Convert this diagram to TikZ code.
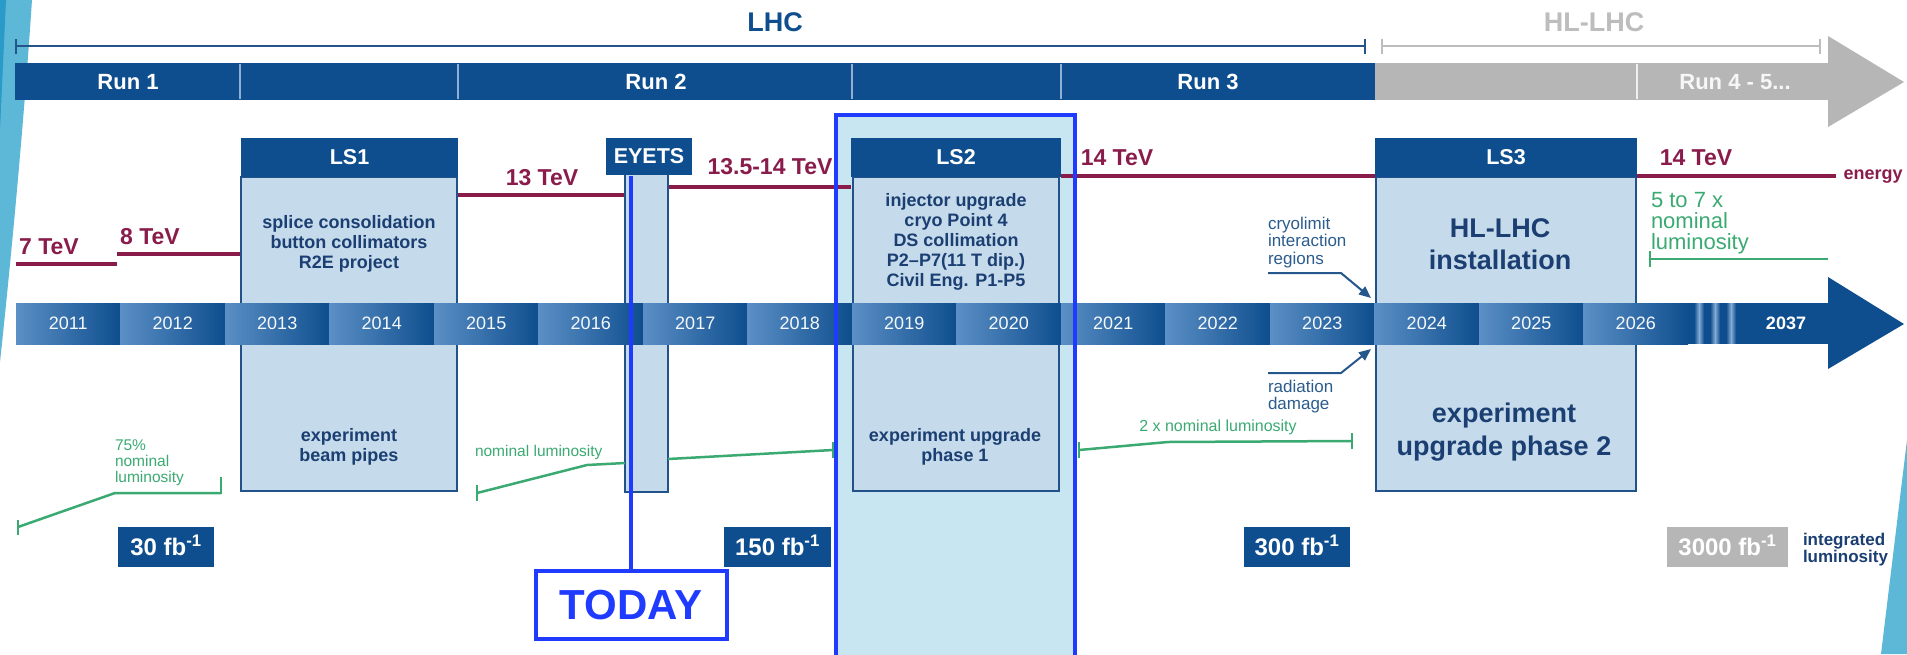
\documentclass[tikz,border=0pt]{standalone}
\usepackage{fontspec}
\setmainfont{Liberation Sans}
\usetikzlibrary{arrows.meta}
\definecolor{dblue}{HTML}{0E4E8E}
\definecolor{lblue}{HTML}{C5DAEA}
\definecolor{bord}{HTML}{21528A}
\definecolor{txtblue}{HTML}{1B3F72}
\definecolor{anntxt}{HTML}{2B5C8E}
\definecolor{annline}{HTML}{25578C}
\definecolor{maroon}{HTML}{8A1C4B}
\definecolor{lgreen}{HTML}{3BAA72}
\definecolor{hlfill}{HTML}{C8E5F2}
\definecolor{hlbord}{HTML}{1F3BFF}
\definecolor{gray1}{HTML}{B6B6B6}
\definecolor{hlgray}{HTML}{BDBDBD}
\definecolor{lhcline}{HTML}{24548A}
\definecolor{ygl}{HTML}{5B8FC5}
\definecolor{ygd}{HTML}{0E4E8E}
\definecolor{sliver}{HTML}{5DB8D8}
\definecolor{sliverd}{HTML}{2A9AC8}
\definecolor{divblue}{HTML}{8FB0D4}
\tikzset{
  lbl/.style={inner sep=0pt, outer sep=0pt},
  toptxt/.style={lbl, font=\fontsize{27}{29}\selectfont\bfseries},
  runtxt/.style={lbl, text=white, font=\fontsize{22}{24}\selectfont\bfseries},
  yeartxt/.style={lbl, text=white!94!ygl, font=\fontsize{18}{20}\selectfont},
  hdr/.style={fill=dblue, text=white, font=\fontsize{21.5}{24}\selectfont\bfseries, inner sep=0pt, outer sep=0pt, minimum height=39pt},
  lsbody/.style={fill=lblue, draw=bord, line width=2pt, inner sep=0pt, outer sep=0pt},
  bodytxt/.style={lbl, text=txtblue, align=center, anchor=north, font=\fontsize{18}{20}\selectfont\bfseries},
  bigtxt/.style={lbl, text=txtblue, align=center, anchor=north, font=\fontsize{27}{32.5}\selectfont\bfseries},
  tev/.style={lbl, text=maroon, font=\fontsize{23}{25}\selectfont\bfseries},
  eline/.style={draw=maroon, line width=4.5pt},
  lum/.style={draw=lgreen, line width=2.5pt},
  lumtxt/.style={lbl, text=lgreen, font=\fontsize{15.5}{16}\selectfont},
  fbbox/.style={fill=dblue, text=white, font=\fontsize{24}{26}\selectfont\bfseries, minimum height=40pt, inner sep=0pt, text height=17pt, text depth=0pt},
  ann/.style={lbl, text=anntxt, align=left, anchor=north west, font=\fontsize{17}{17.5}\selectfont},
  annarrow/.style={draw=annline, line width=2pt, -{Triangle[length=12pt,width=10pt]}},
  todaybox/.style={draw=hlbord, line width=4pt, fill=white, text=hlbord, font=\fontsize{42}{44}\selectfont\bfseries, minimum width=191pt, minimum height=68pt, inner sep=0pt},
}
\begin{document}
\begin{tikzpicture}[x=1pt,y=-1pt]
\path[use as bounding box] (0,0) rectangle (1907,654);
\begin{scope}
\clip (0,0) rectangle (1907,654);
\fill[white] (0,0) rectangle (1907,654);
% decorative slivers
\fill[sliver] (0,0) -- (32,0) .. controls (24,120) and (12,250) .. (0,362) -- cycle;
\fill[sliverd] (0,0) -- (6,0) -- (0,130) -- cycle;
\fill[sliver] (1907,440) -- (1907,654) -- (1881,654) -- cycle;

% top ranges
\node[toptxt, text=dblue] (lhc) at (775,22) {LHC};
\node[toptxt, text=hlgray] (hllhc) at (1594,22) {HL-LHC};
\coordinate (lhcL) at (15,46);
\coordinate (lhcR) at (1366,46);
\draw[draw=lhcline, line width=2pt, {Bar[width=15pt]}-{Bar[width=15pt]}] (lhcL) -- (lhcR);
\coordinate (hlL) at (1381,46);
\coordinate (hlR) at (1821,46);
\draw[draw=hlgray, line width=2pt, {Bar[width=15pt]}-{Bar[width=15pt]}] (hlL) -- (hlR);

% run bar
\fill[dblue] (15,63) rectangle (1376,100);
\fill[gray1] (1375,63) rectangle (1829,100);
\fill[gray1] (1828,36) -- (1904,82) -- (1828,127) -- cycle;
\foreach \dx in {240,458,852,1061} \draw[divblue, line width=1.5pt] (\dx,64) -- (\dx,99);
\draw[white!80!gray1, line width=1.5pt] (1637,64) -- (1637,99);
\node[runtxt] (run1) at (128,82) {Run 1};
\node[runtxt] (run2) at (656,82) {Run 2};
\node[runtxt] (run3) at (1208,82) {Run 3};
\node[runtxt, text=white!94!gray] (run45) at (1735,82) {Run 4 - 5...};

% highlight fill
\fill[hlfill] (836,115) rectangle (1075,660);

% energy
\draw[eline] (16,264) -- (117,264);
\draw[eline] (117,254) -- (241,254);
\draw[eline] (458,195) -- (625,195);
\draw[eline] (668,187) -- (851,187);
\draw[eline] (1061,176) -- (1375,176);
\draw[eline] (1636,176) -- (1836,176);
\node[tev] (e7) at (49,247) {7 TeV};
\node[tev] (e8) at (150,237) {8 TeV};
\node[tev] (e13) at (542,178) {13 TeV};
\node[tev] (e135) at (770,167) {13.5-14 TeV};
\node[tev] (e14a) at (1117,158) {14 TeV};
\node[tev] (e14b) at (1696,158) {14 TeV};
\node[lbl, text=maroon, anchor=base, font=\fontsize{18}{20}\selectfont\bfseries] (energy) at (1873,179) {energy};

% LS boxes
\node[lsbody, minimum width=216pt, minimum height=314pt] (ls1b) at (349,334) {};
\node[hdr, minimum width=217pt] (ls1) at (349.5,157.5) {LS1};
\node[bodytxt] (ls1t) at (349,215.5) {splice consolidation\\button collimators\\R2E project};
\node[bodytxt] (ls1e) at (349,428.5) {experiment\\beam pipes};

\node[lsbody, minimum width=43pt, minimum height=318pt] (eyb) at (646.5,333) {};
\node[hdr, minimum width=86pt, minimum height=37pt] (eyets) at (649,156) {EYETS};

\node[lsbody, minimum width=206pt, minimum height=314pt] (ls2b) at (956,334) {};
\node[hdr, minimum width=210pt] (ls2) at (956,157.5) {LS2};
\node[bodytxt] (ls2t) at (956,193.5) {injector upgrade\\cryo Point 4\\DS collimation\\P2–P7(11 T dip.)\\Civil Eng. P1-P5};
\node[bodytxt] (ls2e) at (955,428.5) {experiment upgrade\\phase 1};

\node[lsbody, minimum width=260pt, minimum height=314pt] (ls3b) at (1506,334) {};
\node[hdr, minimum width=262pt] (ls3) at (1506,157.5) {LS3};
\node[bigtxt] (ls3t) at (1500,218.5) {HL-LHC\\installation};
\node[bigtxt] (ls3e) at (1504,403) {experiment\\upgrade phase 2};

% year bar
\foreach \yr [count=\k from 0] in {2011,...,2026}{
  \pgfmathsetmacro{\xa}{16+104.5*\k}
  \shade[left color=ygl, right color=ygd] (\xa,303) rectangle ({\xa+104.6},344);
  \node[yeartxt] (y\yr) at ({\xa+52.25},323.5) {\yr};
}
\fill[ygd] (1687,303) rectangle (1830,344);
\fill[ygd] (1828,277) -- (1904,324) -- (1828,369) -- cycle;
\foreach \sx in {1699,1715,1731}
  \shade[left color=ygd, right color=ygd, middle color=ygl!75!white] ({\sx-5},303.5) rectangle ({\sx+5},343.5);
\node[lbl, text=white, font=\fontsize{18}{20}\selectfont\bfseries] (y2037) at (1786,323.5) {2037};

% luminosity (green)
\draw[lum] (18,527) -- (115,493) -- (221,493);
\draw[lum] (18,520) -- (18,535);
\draw[lum] (221,477) -- (221,494);
\node[lumtxt, align=left, anchor=north west] (lum1) at (115,440) {75\%\\nominal\\luminosity};
\draw[lum] (477,493) -- (587,465) -- (625,463);
\draw[lum] (477,485) -- (477,501);
\draw[lum] (668,459) -- (833,450);
\draw[lum] (833,442) -- (833,458);
\node[lumtxt, anchor=base west] (lum2) at (475,456) {nominal luminosity};
\draw[lum] (1079,450) -- (1168,442) -- (1352,441);
\draw[lum] (1079,442) -- (1079,458);
\draw[lum] (1352,433) -- (1352,449);
\node[lumtxt, anchor=base, font=\fontsize{16}{17}\selectfont] (lum3) at (1218,431) {2 x nominal luminosity};
\draw[lum] (1650,259) -- (1828,259);
\draw[lum] (1650,251) -- (1650,267);
\node[lumtxt, align=left, anchor=north west, font=\fontsize{22}{21}\selectfont] (lum4) at (1651,192) {5 to 7 x\\nominal\\luminosity};

% integrated luminosity boxes
\node[fbbox, minimum width=96pt] (fb30) at (166,547) {30 fb\textsuperscript{-1}};
\node[fbbox, minimum width=107pt] (fb150) at (777.5,547) {150 fb\textsuperscript{-1}};
\node[fbbox, minimum width=106pt] (fb300) at (1297,547) {300 fb\textsuperscript{-1}};
\node[fbbox, fill=gray1, minimum width=121pt] (fb3000) at (1727.5,547) {3000 fb\textsuperscript{-1}};
\node[lbl, text=txtblue, align=left, anchor=north west, font=\fontsize{17}{15.5}\selectfont\bfseries] (intlum) at (1803,533) {integrated\\luminosity};

% annotations
\node[ann] (cryo) at (1268,217) {cryolimit\\interaction\\regions};
\coordinate (cryoA) at (1268,273);
\coordinate (cryoB) at (1341,273);
\coordinate (cryoT) at (1371,298);
\draw[annarrow] (cryoA) -- (cryoB) -- (cryoT);
\node[ann] (rad) at (1268,380) {radiation\\damage};
\coordinate (radA) at (1268,373);
\coordinate (radB) at (1341,373);
\coordinate (radT) at (1371,349);
\draw[annarrow] (radA) -- (radB) -- (radT);

% highlight border
\coordinate (hlA) at (836,700);
\coordinate (hlB) at (836,115);
\coordinate (hlC) at (1075,115);
\coordinate (hlD) at (1075,700);
\draw[hlbord, line width=4pt] (hlA) -- (hlB) -- (hlC) -- (hlD);

% TODAY
\node[todaybox] (today) at (631,605) {TODAY};
\coordinate (todaytop) at (631,176);
\draw[hlbord, line width=3.5pt] (todaytop) -- (today.north);
\end{scope}
\end{tikzpicture}
\end{document}
